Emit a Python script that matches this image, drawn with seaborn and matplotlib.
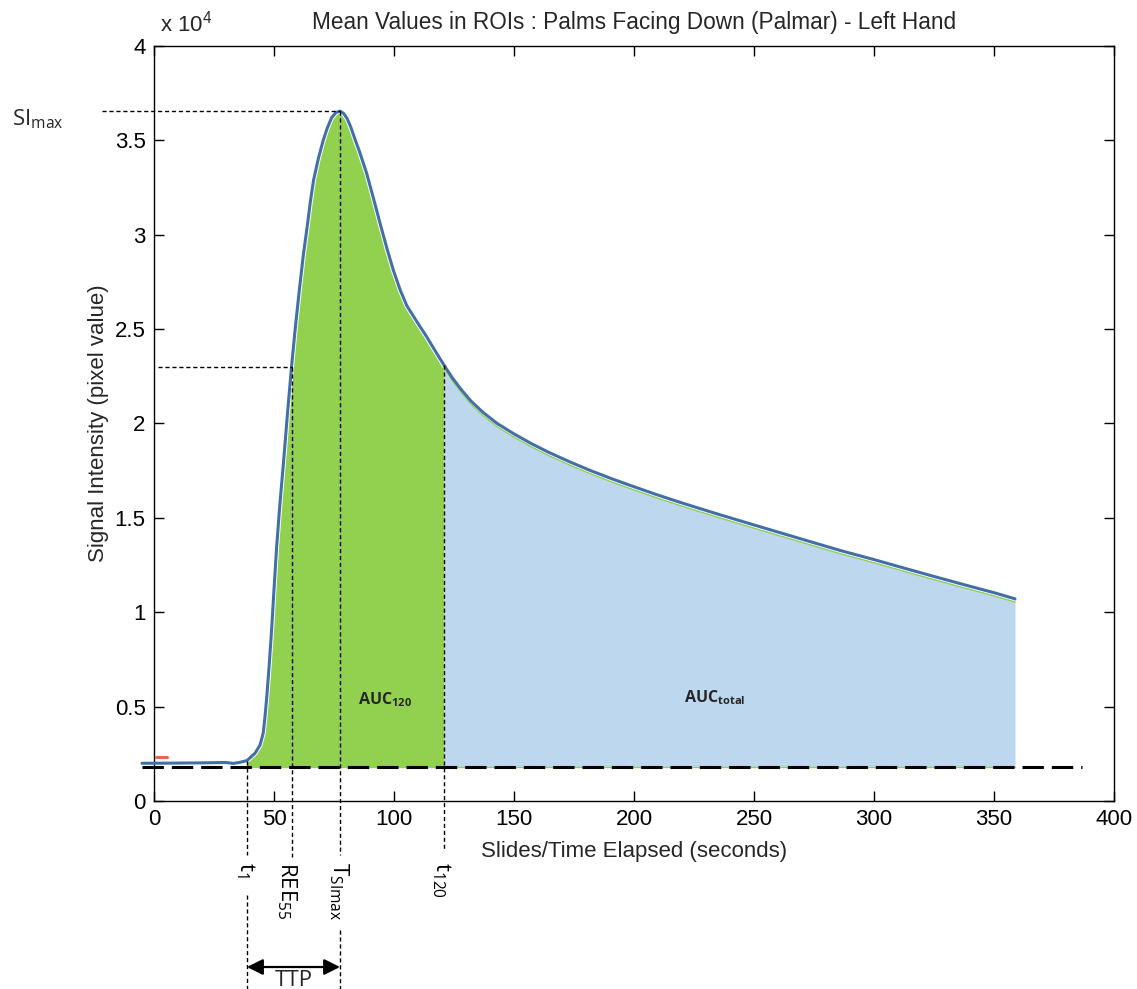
import numpy as np
import pandas as pd
import matplotlib
matplotlib.use("Agg")
import matplotlib.pyplot as plt
import seaborn as sns

# Mean ROI signal over time (seconds, pixel value)
time_s = [-5, 0, 10, 20, 30, 33, 35.8, 38.75, 42.1, 44.2, 45.5, 46.2, 47.0,
          48.0, 49.0, 50.0, 51.1, 52.5, 54.0, 55.6, 57.3, 58.9, 60.5, 62.2,
          64.0, 65.2, 66.5, 68.5, 70.5, 72.2, 74.0, 75.8, 77.5, 79.0, 80.5,
          82.0, 83.5, 85.5, 88.6, 91.4, 94.2, 97.0, 99.7, 102.5, 105.3, 109.5,
          113.6, 117.0, 120.8, 124.3, 128, 132, 137, 143, 150, 157, 164, 173,
          182, 191, 200, 209, 218.5, 234, 249.6, 261, 272.8, 286, 300, 313.6,
          327.2, 338.7, 350.2, 358.75]
signal = [2000, 2000, 2010, 2020, 2040, 1990, 2050, 2140, 2530, 2970, 3590,
          4400, 5530, 7200, 9060, 11200, 13470, 15800, 18000, 20500, 23000,
          25100, 27000, 28900, 30600, 31800, 32900, 34050, 35000, 35650, 36200,
          36470, 36550, 36430, 36150, 35700, 35150, 34450, 33260, 31950, 30600,
          29300, 28130, 27100, 26250, 25400, 24600, 23880, 23100, 22420, 21800,
          21200, 20600, 20000, 19450, 18950, 18500, 17980, 17500, 17060, 16650,
          16250, 15850, 15235, 14640, 14210, 13765, 13270, 12790, 12300, 11820,
          11420, 11030, 10710]

baseline = 1800
t1 = 38.75
t_ree, si_ree = 57.3, 23000
t_max, si_max = 77.5, 36550
t120 = 120.8
t_end = 358.75

x_ticks = [0, 50, 100, 150, 200, 250, 300, 350, 400]
y_ticks = [0, 5000, 10000, 15000, 20000, 25000, 30000, 35000, 40000]
y_tick_labels = ["0", "0.5", "1", "1.5", "2", "2.5", "3", "3.5", "4"]

df = pd.DataFrame({"time": time_s, "signal": signal})

sns.set_theme(style="white")
plt.rcParams["font.family"] = ["Liberation Sans", "DejaVu Sans"]
plt.rcParams["mathtext.fontset"] = "custom"
plt.rcParams["mathtext.rm"] = "Open Sans"
plt.rcParams["mathtext.it"] = "Open Sans:italic"
plt.rcParams["mathtext.bf"] = "Open Sans:bold"
plt.rcParams["mathtext.sf"] = "Liberation Sans"

BLUE = "#4270a6"
GREEN = "#92d050"
LIGHTBLUE = "#bdd7ee"

fig = plt.figure(figsize=(11.37, 9.89), dpi=100)
ax = fig.add_axes([0.13544, 0.19009, 0.84433, 0.76340])

t = df["time"].to_numpy()
s = df["signal"].to_numpy()

# Areas under the curve
m_early = (t >= t1) & (t <= t120)
m_late = (t >= t120) & (t <= t_end)
ax.fill_between(t[m_early], baseline, s[m_early], color=GREEN, lw=0, zorder=1)
ax.fill_between(t[m_late], baseline, s[m_late], color=LIGHTBLUE, lw=0, zorder=1)
ax.plot([t1, t_end], [baseline, baseline], color=GREEN, lw=1.0, zorder=1.5)

# Enhancement curve with a thin halo over the filled part
m_fill = t >= t1
ax.plot(t[m_fill], s[m_fill], color="white", lw=3.6, zorder=2,
        solid_capstyle="butt")
ax.plot(t[m_late], s[m_late] - 170, color=GREEN, lw=0.9, zorder=2.2)
sns.lineplot(data=df, x="time", y="signal", ax=ax, color=BLUE, lw=2.2,
             zorder=3, sort=False, estimator=None, clip_on=False)

# Baseline level
ax.plot([-5, 386.5], [baseline, baseline], color="black", lw=2.2,
        dashes=(7, 2.6), zorder=4, clip_on=False)

# Small marker near the origin
ax.plot([0.8, 5.5], [2330, 2330], color="#e8694a", lw=2.2, zorder=3)

# Guide lines for the time points and the peak
dash_kw = dict(color="black", lw=1.0, dashes=(3, 2), zorder=4, clip_on=False)
ax.plot([-21.7, t_max], [si_max, si_max], **dash_kw)
ax.plot([1.7, t_ree], [si_ree, si_ree], **dash_kw)
ax.plot([t1, t1], [np.interp(t1, t, s), -2861], **dash_kw)
ax.plot([t1, t1], [-4980, -9960], **dash_kw)
ax.plot([t_ree, t_ree], [si_ree, -2967], **dash_kw)
ax.plot([t_max, t_max], [si_max, -2861], **dash_kw)
ax.plot([t_max, t_max], [-6834, -9960], **dash_kw)
ax.plot([t120, t120], [np.interp(t120, t, s), -2650], **dash_kw)

# Rotated time-point labels below the axis
lab_kw = dict(rotation=-90, ha="center", va="top", fontsize=16, color="black")
ax.text(37.9, -3230, r"$\mathrm{t}_{\mathrm{1}}$", **lab_kw)
ax.text(55.4, -3230, r"$\mathrm{REE}_{\mathrm{55}}$", **lab_kw)
ax.text(77.1, -3230, r"$\mathrm{T}_{\mathrm{SImax}}$", **lab_kw)
ax.text(119.6, -3230, r"$\mathrm{t}_{\mathrm{120}}$", **lab_kw)

# Time-to-peak arrow
ax.annotate("", xy=(t1, -8795), xytext=(t_max, -8795),
            arrowprops=dict(arrowstyle="<|-|>", color="black", lw=1.6,
                            mutation_scale=24, shrinkA=0, shrinkB=0),
            annotation_clip=False)
ax.text((t1 + t_max) / 2, -8950, "TTP", ha="center", va="top",
        fontsize=16, family="Open Sans")

# Area labels
ax.text(96.3, 5350, r"$\mathbf{AUC}_{\mathbf{120}}$", ha="center",
        va="center", fontsize=11.5)
ax.text(233.7, 5450, r"$\mathbf{AUC}_{\mathbf{total}}$", ha="center",
        va="center", fontsize=11.5)

# Peak value label at the left edge
fig.text(12 / 1137, 1 - 125 / 989, r"$\mathrm{SI}_{\mathrm{max}}$",
         ha="left", va="baseline", fontsize=16)

ax.set_xlim(0, 400)
ax.set_ylim(0, 40000)
ax.set_xticks(x_ticks)
ax.set_xticklabels([str(v) for v in x_ticks])
ax.set_yticks(y_ticks)
ax.set_yticklabels(y_tick_labels)
ax.tick_params(direction="in", length=7, width=1.0, colors="black",
               labelsize=16, pad=6, top=True, right=True,
               bottom=True, left=True)
for sp in ax.spines.values():
    sp.set_visible(True)
    sp.set_color("black")
    sp.set_linewidth(1.0)

ax.set_xlabel("Slides/Time Elapsed (seconds)", fontsize=16, labelpad=8)
ax.set_ylabel("Signal Intensity (pixel value)", fontsize=16, labelpad=4)
ax.set_title("Mean Values in ROIs : Palms Facing Down (Palmar) - Left Hand",
             fontsize=16.3, pad=12)
ax.text(0.006, 1.012, r"x 10$^{\mathsf{4}}$", transform=ax.transAxes,
        ha="left", va="bottom", fontsize=16)

fig.savefig("out.png", dpi=100, facecolor="white")
